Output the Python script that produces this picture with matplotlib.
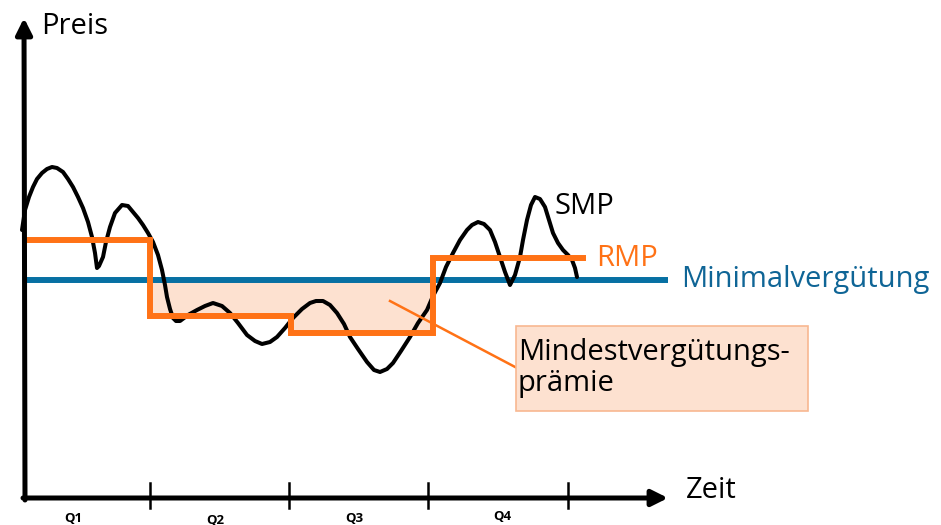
import matplotlib.pyplot as plt
from matplotlib.patches import Rectangle

# ---------------------------------------------------------------------------
# Daten (Pixel-Koordinaten des Schemas, y nach unten)
# ---------------------------------------------------------------------------
smp_x = [22, 25, 29, 33, 37, 42, 47, 52, 57, 63, 68, 73, 78, 83, 88, 92, 95, 97, 99,
         103, 106, 110, 115, 122, 128, 133, 138, 143, 148, 153, 158, 162, 165, 167, 170,
         173, 176, 180, 188, 197, 205, 213, 222, 230, 238, 247, 255, 262, 270, 277, 285,
         293, 302, 310, 316, 323, 330, 337, 344, 350, 358, 367, 374, 380, 387, 393, 401,
         410, 418, 427, 433, 440, 446, 453, 460, 467, 472, 478, 484, 490, 495, 500, 505,
         510, 515, 520, 523, 527, 531, 535, 540, 545, 549, 553, 558, 563, 568, 572, 575, 577]
smp_y = [230, 210, 197, 187, 179, 173, 169, 167, 168, 172, 179, 187, 197, 208, 222, 237, 253,
         268, 266, 257, 242, 227, 213, 205, 206, 212, 218, 225, 233, 242, 255, 270, 285, 297,
         309, 318, 321, 321, 315, 310, 306, 303, 306, 313, 323, 335, 341, 344, 342, 337, 328,
         318, 309, 303, 301, 301, 305, 313, 324, 337, 349, 362, 370, 372, 369, 363, 351,
         337, 323, 310, 296, 283, 267, 253, 240, 230, 225, 222, 224, 230, 242, 257, 272,
         285, 275, 257, 240, 220, 205, 197, 199, 207, 220, 233, 243, 250, 255, 260, 268, 277]

rmp_x = [25, 150, 291, 433, 583]
rmp_y = [240, 316, 333, 258]

min_y = 280
min_x = [25, 668]

tick_x = [150, 289, 428, 568]
quarter_x = [73, 215, 354, 502]
quarter_y = [519, 520, 519, 516]
quarter_labels = ["Q1", "Q2", "Q3", "Q4"]

ORANGE = "#FF7216"
BLUE = "#0770A3"
BLUE_TEXT = "#0F6596"
FILL = "#FDE1D0"
FONT = "Open Sans"
FS = 21

fig = plt.figure(figsize=(9.41, 5.25), dpi=100)
ax = fig.add_axes([0, 0, 1, 1])
ax.set_xlim(0, 941)
ax.set_ylim(525, 0)
ax.axis("off")

# Mindestvergütungsprämie (Fläche zwischen Minimalvergütung und RMP)
ax.fill_between(rmp_x[1:4], [min_y] * 3, rmp_y[1:4], step="post",
                color=FILL, lw=0, zorder=1)

# Minimalvergütung
ax.plot(min_x, [min_y, min_y], color=BLUE, lw=4.3, solid_capstyle="butt", zorder=2)

# SMP
ax.plot(smp_x, smp_y, color="black", lw=2.9, solid_joinstyle="round",
        solid_capstyle="round", zorder=3)

# RMP (Stufenfunktion)
ax.step(rmp_x, rmp_y + [rmp_y[-1]], where="post", color=ORANGE, lw=4.3,
        solid_joinstyle="miter", zorder=4)

# Achsen mit Pfeilen
ax.annotate("", xy=(24, 18), xytext=(25, 500),
            arrowprops=dict(arrowstyle="-|>", lw=3.6, color="black", mutation_scale=24,
                            shrinkA=0, shrinkB=0), zorder=5)
ax.annotate("", xy=(668, 498), xytext=(23, 498),
            arrowprops=dict(arrowstyle="-|>", lw=3.6, color="black", mutation_scale=24,
                            shrinkA=0, shrinkB=0), zorder=5)
for tx in tick_x:
    ax.plot([tx, tx], [483, 508], color="black", lw=1.8, zorder=5)
for qx, qy, ql in zip(quarter_x, quarter_y, quarter_labels):
    ax.text(qx, qy, ql, ha="center", va="center", fontsize=9.5, fontweight="bold",
            family=FONT)

# Beschriftungen
ax.text(41, 27, "Preis", ha="left", va="center", fontsize=FS, family=FONT)
ax.text(686, 490, "Zeit", ha="left", va="center", fontsize=FS, family=FONT)
ax.text(555, 207, "SMP", ha="left", va="center", fontsize=FS, family=FONT)
ax.text(596, 258, "RMP", ha="left", va="center", fontsize=FS, family=FONT, color=ORANGE)
ax.text(681, 280, "Minimalvergütung", ha="left", va="center", fontsize=FS, family=FONT,
        color=BLUE_TEXT)

# Kasten + Hinweislinie
ax.plot([390, 517], [301, 368], color=ORANGE, lw=1.8, zorder=6)
ax.add_patch(Rectangle((516, 326), 292, 85, facecolor=FILL, edgecolor="#F8B891",
                       lw=1.2, zorder=6))
ax.text(518, 368, "Mindestvergütungs-\nprämie", ha="left", va="center", fontsize=FS,
        family=FONT, linespacing=1.1, zorder=7)

fig.savefig("out.png", dpi=100)
